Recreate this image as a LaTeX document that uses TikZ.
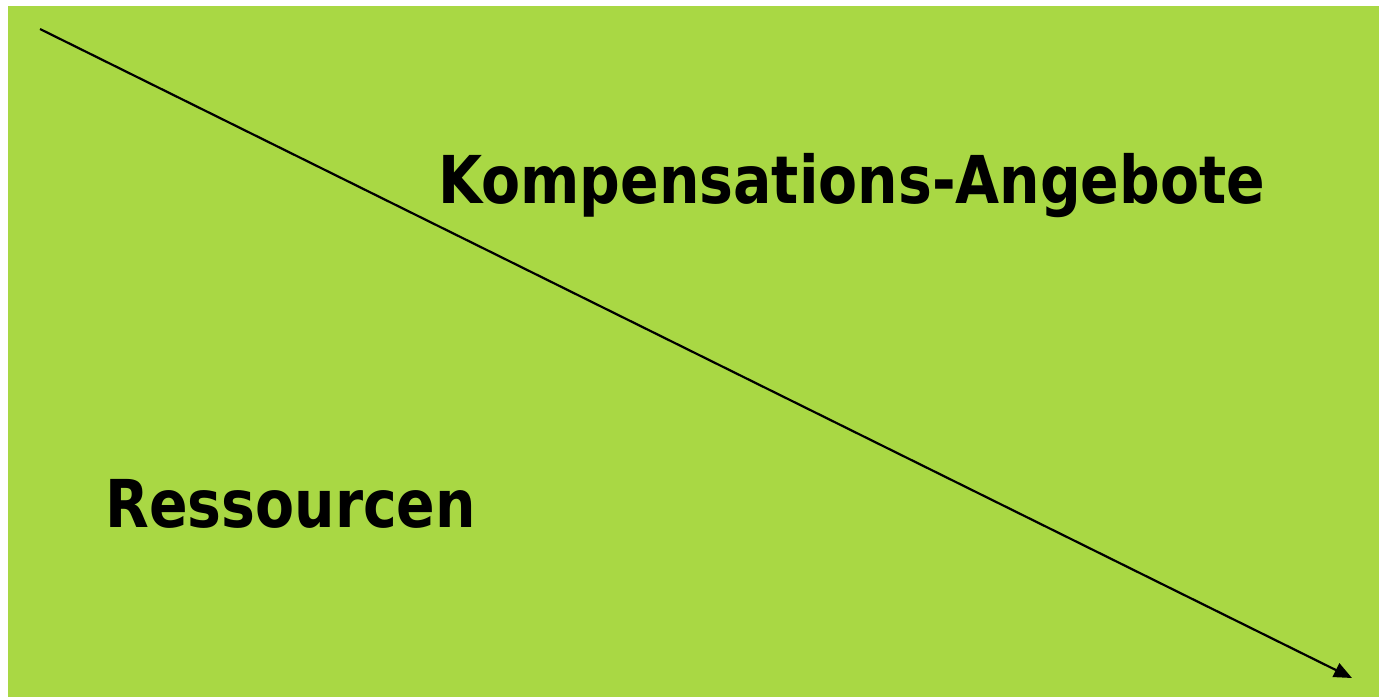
\documentclass[tikz,border=0pt]{standalone}
\usepackage{fontspec}
\usepackage{graphicx}
\newfontfamily\lblfont{DejaVu Sans Condensed}
\usetikzlibrary{arrows.meta}
\definecolor{panelgreen}{RGB}{169,216,68}
\newcommand{\narrowtext}[1]{\scalebox{0.958}[1]{#1}}
\tikzset{
  lbl/.style={anchor=base west, inner sep=0pt, font=\lblfont\bfseries\fontsize{33pt}{33pt}\selectfont, text=black},
  axis/.style={line width=1.1pt, -{Triangle[length=9pt,width=7.5pt]}}
}
\begin{document}
\begin{tikzpicture}[x=0.5pt,y=-0.5pt]
  \useasboundingbox (0,0) rectangle (1379,697);
  \fill[panelgreen] (8,6) rectangle (1379,697);
  \coordinate (start) at (40,29);
  \coordinate (end) at (1352,678);
  \draw[axis] (start) -- (end);
  \node[lbl] (komp) at (438,203) {\narrowtext{Kompensations-Angebote}};
  \node[lbl] (res) at (105,527) {\narrowtext{Ressourcen}};
\end{tikzpicture}
\end{document}
